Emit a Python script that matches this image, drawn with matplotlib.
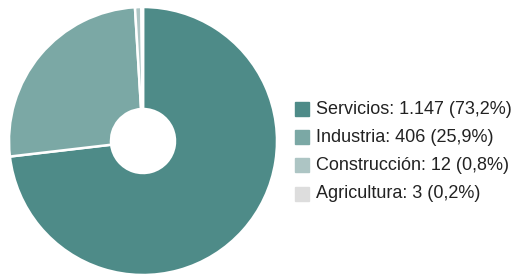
import matplotlib.pyplot as plt
from matplotlib.patches import Rectangle

# Sector data
sectors = ['Servicios', 'Industria', 'Construcción', 'Agricultura']
counts = [1147, 406, 12, 3]
count_labels = ['1.147', '406', '12', '3']
pct_labels = ['73,2%', '25,9%', '0,8%', '0,2%']
colors = ['#4e8b88', '#7ba8a5', '#adc5c4', '#dddddd']

W, H = 524, 275
fig = plt.figure(figsize=(W / 100, H / 100), dpi=100)

# donut
cx, cy, r = 143, 141, 134
ax = fig.add_axes([(cx - r) / W, (H - cy - r) / H, 2 * r / W, 2 * r / H])
ax.pie(counts, colors=colors, startangle=90, counterclock=False,
       wedgeprops=dict(width=(r - 32) / r, edgecolor='white', linewidth=1.8))
ax.set_xlim(-1, 1)
ax.set_ylim(-1, 1)
ax.set_aspect('equal')
ax.axis('off')

# legend drawn by hand
y0, dy = 109, 28.2
for i, name in enumerate(sectors):
    y = y0 + i * dy
    fig.patches.append(Rectangle((295 / W, (H - y - 7) / H), 14 / W, 14 / H,
                                 transform=fig.transFigure, color=colors[i]))
    fig.text(316 / W, (H - y) / H,
             f'{name}: {count_labels[i]} ({pct_labels[i]})',
             fontsize=13, family='Liberation Sans', color='#222222', va='center')

fig.savefig('out.png', dpi=100)
